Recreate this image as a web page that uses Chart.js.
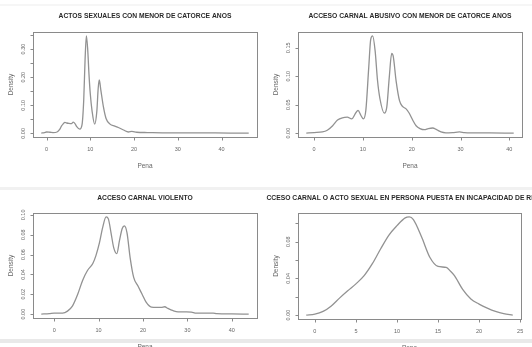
<!DOCTYPE html>
<html>
<head>
<meta charset="utf-8">
<script src="https://cdn.jsdelivr.net/npm/chart.js@4.4.1/dist/chart.umd.min.js"></script>
<style>
  html, body { margin: 0; padding: 0; background: #fff; }
  #wrap { position: relative; width: 532px; height: 347px; overflow: hidden; background: #fff; }
  #wrap canvas { position: absolute; }
  .band { position: absolute; left: 0; width: 532px; }
</style>
</head>
<body>
<div id="wrap">
  <div class="band" style="top:4px;height:2px;background:#f6f6f6"></div>
  <div class="band" style="top:187px;height:3px;background:#f1f1f1"></div>
  <div class="band" style="top:339px;height:4px;background:#e9e9e9"></div>
  <canvas id="c1" width="266" height="174" style="left:0;top:0"></canvas>
  <canvas id="c2" width="266" height="174" style="left:266px;top:0"></canvas>
  <canvas id="c3" width="266" height="173" style="left:0;top:174px"></canvas>
  <canvas id="c4" width="266" height="173" style="left:266px;top:174px"></canvas>
</div>
<script>
// density of "Pena" per delito
const titles = [
  'ACTOS SEXUALES CON MENOR DE CATORCE ANOS',
  'ACCESO CARNAL ABUSIVO CON MENOR DE CATORCE ANOS',
  'ACCESO CARNAL VIOLENTO',
  'ACCESO CARNAL O ACTO SEXUAL EN PERSONA PUESTA EN INCAPACIDAD DE RESISTIR'
];
const xTitle = 'Pena';
const yTitle = 'Density';

const penaActos = [-1.2, -0.5, 0, 0.8, 1.5, 2.4, 3.0, 3.4, 3.8, 4.2, 4.6, 5.0, 5.7, 6.1, 6.5, 6.9, 7.6, 8.1, 8.5, 8.8, 9.1, 9.4, 9.7, 10.0, 10.4, 11.0, 11.5, 11.8, 12.05, 12.4, 13.0, 13.6, 14.5, 15.6, 16.4, 17.6, 18.7, 19.5, 20.6, 23, 28, 35, 42, 46.2];
const densActos = [0.001, 0.003, 0.005, 0.004, 0.003, 0.005, 0.014, 0.026, 0.034, 0.039, 0.037, 0.036, 0.035, 0.040, 0.035, 0.024, 0.015, 0.030, 0.12, 0.26, 0.347, 0.30, 0.21, 0.14, 0.08, 0.033, 0.08, 0.16, 0.19, 0.155, 0.094, 0.053, 0.033, 0.026, 0.021, 0.012, 0.005, 0.007, 0.004, 0.003, 0.002, 0.002, 0.001, 0.001];

const penaAbusivo = [-1.6, 0, 1.7, 2.7, 3.8, 4.8, 5.8, 6.8, 7.7, 8.5, 9.0, 9.6, 10.1, 10.6, 11.2, 11.6, 12.0, 12.5, 13.0, 13.5, 14.4, 14.9, 15.4, 15.9, 16.2, 16.8, 17.5, 18.1, 18.8, 19.5, 20.2, 20.9, 21.7, 22.6, 23.4, 24.3, 25.1, 26.0, 27.0, 28.4, 29.8, 30.8, 32.5, 36, 40.9];
const densAbusivo = [0.0, 0.001, 0.002, 0.005, 0.013, 0.023, 0.027, 0.028, 0.025, 0.035, 0.040, 0.031, 0.025, 0.040, 0.116, 0.165, 0.171, 0.145, 0.092, 0.060, 0.035, 0.046, 0.098, 0.140, 0.136, 0.092, 0.057, 0.047, 0.043, 0.035, 0.023, 0.013, 0.008, 0.006, 0.008, 0.009, 0.006, 0.002, 0.0005, 0.001, 0.002, 0.001, 0.0005, 0.0003, 0.0];

const penaViolento = [-2.9, -1.1, 0, 1.9, 3.0, 4.1, 5.3, 6.4, 7.5, 8.7, 9.4, 10.2, 10.9, 11.7, 12.2, 12.8, 13.4, 14.1, 14.7, 15.3, 15.8, 16.4, 17.1, 17.9, 18.9, 19.8, 20.7, 21.9, 23.0, 24.1, 24.9, 25.6, 26.8, 27.9, 29.8, 30.9, 32.0, 35.8, 36.6, 40, 43.8];
const densViolento = [0.0, 0.0005, 0.001, 0.001, 0.003, 0.008, 0.020, 0.034, 0.044, 0.051, 0.059, 0.072, 0.087, 0.098, 0.096, 0.082, 0.067, 0.061, 0.074, 0.086, 0.089, 0.082, 0.057, 0.037, 0.028, 0.020, 0.012, 0.007, 0.0067, 0.0067, 0.0074, 0.0057, 0.0034, 0.0023, 0.0023, 0.002, 0.001, 0.001, 0.0004, 0.0002, 0.0];

const penaIncap = [-1.05, 0, 1, 2, 3, 4, 5, 6, 7, 8, 9, 10, 11, 11.5, 12, 13, 14, 15, 16, 16.5, 17, 18, 19, 20, 21, 22, 23, 24.1];
const densIncap = [0.0, 0.001, 0.004, 0.010, 0.0185, 0.0265, 0.034, 0.043, 0.056, 0.072, 0.087, 0.0975, 0.106, 0.107, 0.104, 0.085, 0.063, 0.053, 0.052, 0.048, 0.043, 0.028, 0.0175, 0.012, 0.0076, 0.004, 0.0015, 0.0];

const xTicksActos = [0, 10, 20, 30, 40];
const xTicksAbusivo = [0, 10, 20, 30, 40];
const xTicksViolento = [0, 10, 20, 30, 40];
const xTicksIncap = [0, 5, 10, 15, 20, 25];

const yTicksActos = [0, 0.05, 0.10, 0.15, 0.20, 0.25, 0.30, 0.35];
const yLabelsActos = ['0.00', '', '0.10', '', '0.20', '', '0.30', ''];
const yTicksAbusivo = [0, 0.05, 0.10, 0.15];
const yLabelsAbusivo = ['0.00', '0.05', '0.10', '0.15'];
const yTicksViolento = [0, 0.02, 0.04, 0.06, 0.08, 0.10];
const yLabelsViolento = ['0.00', '0.02', '0.04', '0.06', '0.08', '0.10'];
const yTicksIncap = [0, 0.02, 0.04, 0.06, 0.08, 0.10];
const yLabelsIncap = ['0.00', '', '0.04', '', '0.08', ''];

const FONT = '"Liberation Sans", Arial, sans-serif';

// R-like frame, axes and labels, placed through the chart scales
const rAxes = {
  id: 'rAxes',
  afterDraw(chart, args, o) {
    const {ctx, chartArea: a, scales: {x, y}} = chart;
    ctx.save();
    ctx.strokeStyle = '#8a8a8a';
    ctx.lineWidth = 1;
    ctx.strokeRect(Math.round(a.left) + 0.5, Math.round(a.top) + 0.5,
      Math.round(a.right - a.left), Math.round(a.bottom - a.top));

    ctx.fillStyle = '#666';
    ctx.font = '5.5px ' + FONT;
    ctx.textAlign = 'center';
    ctx.textBaseline = 'middle';

    // x axis
    const yb = Math.round(a.bottom) + 0.5;
    ctx.beginPath();
    ctx.moveTo(x.getPixelForValue(o.xTicks[0]), yb);
    ctx.lineTo(x.getPixelForValue(o.xTicks[o.xTicks.length - 1]), yb);
    o.xTicks.forEach(v => {
      const px = Math.round(x.getPixelForValue(v)) + 0.5;
      ctx.moveTo(px, yb); ctx.lineTo(px, yb + 3);
    });
    ctx.stroke();
    o.xTicks.forEach(v => ctx.fillText(String(v), x.getPixelForValue(v), a.bottom + 12));

    // y axis
    const xl = Math.round(a.left) + 0.5;
    ctx.beginPath();
    ctx.moveTo(xl, y.getPixelForValue(o.yTicks[0]));
    ctx.lineTo(xl, y.getPixelForValue(o.yTicks[o.yTicks.length - 1]));
    o.yTicks.forEach(v => {
      const py = Math.round(y.getPixelForValue(v)) + 0.5;
      ctx.moveTo(xl, py); ctx.lineTo(xl - 3, py);
    });
    ctx.stroke();
    o.yTicks.forEach((v, i) => {
      if (!o.yLabels[i]) return;
      ctx.save();
      ctx.translate(a.left - 10, y.getPixelForValue(v));
      ctx.rotate(-Math.PI / 2);
      ctx.fillText(o.yLabels[i], 0, 0);
      ctx.restore();
    });

    // axis titles
    ctx.font = '6.5px ' + FONT;
    const cx = (a.left + a.right) / 2, cy = (a.top + a.bottom) / 2;
    ctx.fillText(xTitle, cx, a.bottom + 29);
    ctx.save();
    ctx.translate(a.left - 22, cy);
    ctx.rotate(-Math.PI / 2);
    ctx.fillText(yTitle, 0, 0);
    ctx.restore();

    // main title, a bit narrow like the original
    ctx.fillStyle = '#2a2a2a';
    ctx.font = 'bold 7.5px ' + FONT;
    ctx.save();
    ctx.translate(cx, a.top - o.titleGap);
    ctx.scale(0.9, 1);
    ctx.fillText(o.title, 0, 0);
    ctx.restore();
    ctx.restore();
  }
};

function rRange(vals) {
  const lo = Math.min.apply(null, vals), hi = Math.max.apply(null, vals);
  const pad = (hi - lo) * 0.04;
  return [lo - pad, hi + pad];
}

function densityChart(id, pena, dens, xTicks, yTicks, yLabels, title, pad, titleGap) {
  const xr = rRange(pena), yr = rRange(dens);
  const pts = pena.map((p, i) => ({x: p, y: dens[i]}));
  new Chart(document.getElementById(id), {
    type: 'line',
    data: {datasets: [{
      data: pts,
      borderColor: '#929292',
      borderWidth: 1.3,
      pointRadius: 0,
      fill: false,
      cubicInterpolationMode: 'monotone'
    }]},
    options: {
      responsive: false,
      animation: false,
      layout: {padding: pad},
      plugins: {
        legend: {display: false},
        tooltip: {enabled: false},
        rAxes: {xTicks, yTicks, yLabels, title, titleGap}
      },
      scales: {
        x: {type: 'linear', display: false, min: xr[0], max: xr[1]},
        y: {type: 'linear', display: false, min: yr[0], max: yr[1]}
      }
    },
    plugins: [rAxes]
  });
}

densityChart('c1', penaActos, densActos, xTicksActos, yTicksActos, yLabelsActos, titles[0],
  {left: 33, right: 9, top: 32, bottom: 37}, 16.5);
densityChart('c2', penaAbusivo, densAbusivo, xTicksAbusivo, yTicksAbusivo, yLabelsAbusivo, titles[1],
  {left: 32, right: 10, top: 32, bottom: 37}, 16.5);
densityChart('c3', penaViolento, densViolento, xTicksViolento, yTicksViolento, yLabelsViolento, titles[2],
  {left: 33, right: 9, top: 39, bottom: 29}, 15.5);
densityChart('c4', penaIncap, densIncap, xTicksIncap, yTicksIncap, yLabelsIncap, titles[3],
  {left: 32, right: 11, top: 39, bottom: 28}, 15.5);
</script>
</body>
</html>
